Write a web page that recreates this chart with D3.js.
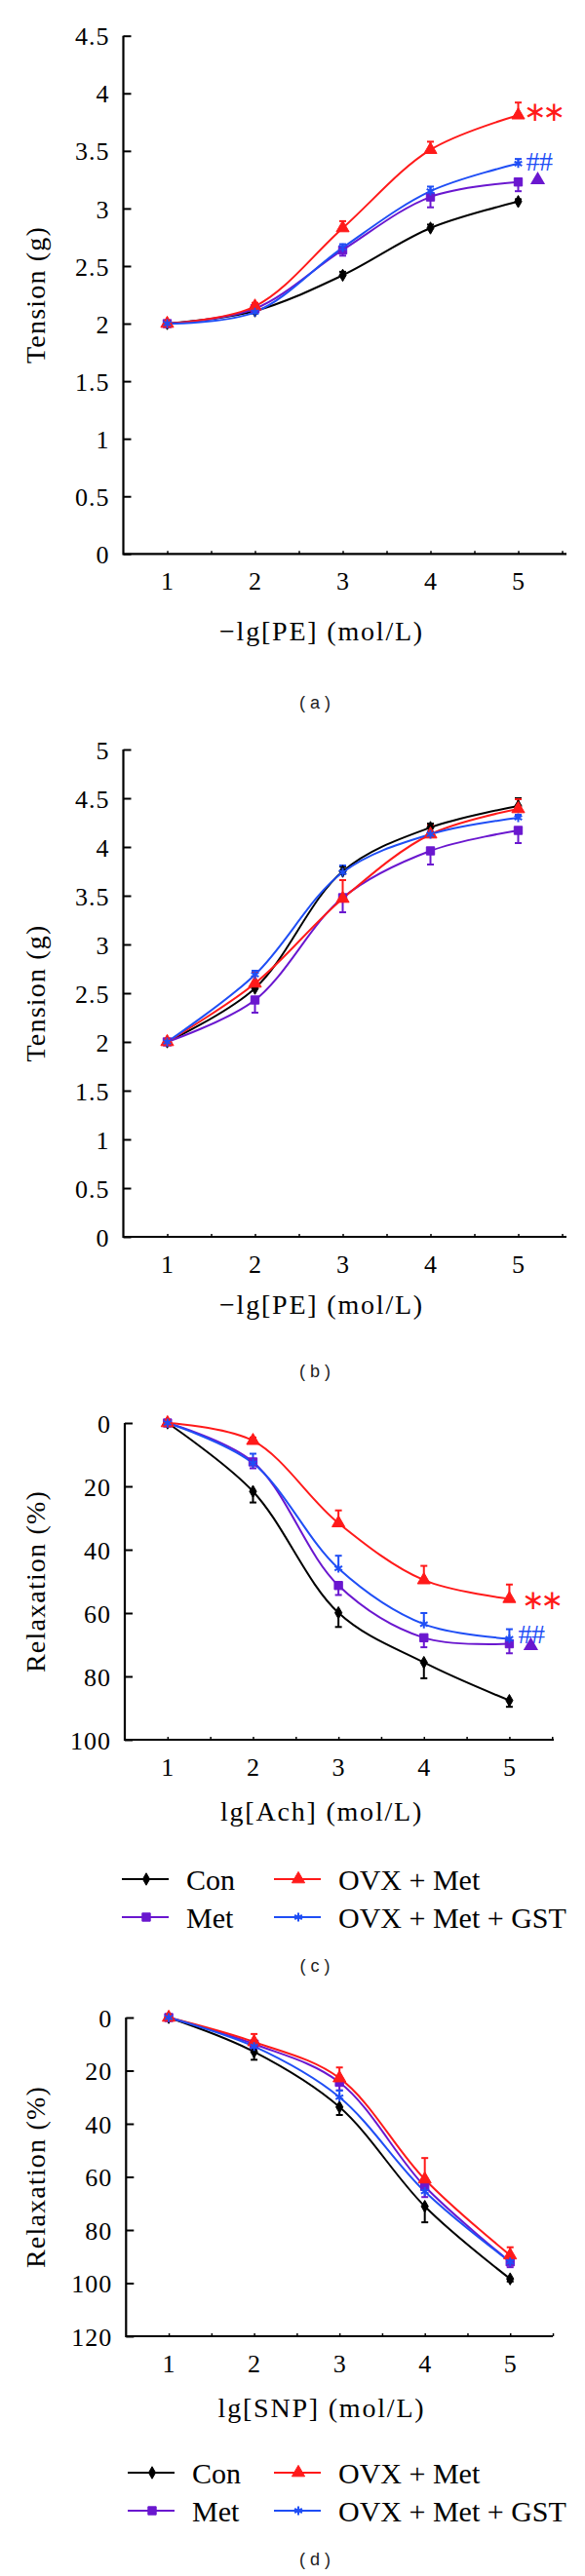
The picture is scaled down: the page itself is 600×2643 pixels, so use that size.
<!DOCTYPE html>
<html><head><meta charset="utf-8">
<script src="https://cdn.jsdelivr.net/npm/d3@7"></script>
<style>body{margin:0;background:#fff}svg{display:block}</style>
</head><body>
<svg id="c" width="600" height="2643"></svg>
<script>
// ---------- data ----------
const doses = [1, 2, 3, 4, 5];
const seriesNames = ["Con", "Met", "OVX + Met", "OVX + Met + GST"];

// (a) -lg[PE], tension (g)
const aTicks = [0, 0.5, 1, 1.5, 2, 2.5, 3, 3.5, 4, 4.5];
const aCon = [2.00, 2.11, 2.42, 2.83, 3.06];
const aMet = [2.00, 2.13, 2.64, 3.10, 3.23];
const aOvxMet = [2.00, 2.15, 2.83, 3.51, 3.81];
const aOvxMetGst = [2.00, 2.10, 2.66, 3.15, 3.39];
const aConErr = [0.01, 0.02, 0.03, 0.03, 0.02];
const aMetErr = [0.01, 0.02, 0.05, 0.09, 0.08];
const aOvxMetErr = [0.01, 0.03, 0.06, 0.07, 0.11];
const aOvxMetGstErr = [0.01, 0.02, 0.03, 0.04, 0.04];

// (b) -lg[PE], tension (g)
const bTicks = [0, 0.5, 1, 1.5, 2, 2.5, 3, 3.5, 4, 4.5, 5];
const bCon = [2.00, 2.55, 3.75, 4.20, 4.42];
const bMet = [2.00, 2.43, 3.48, 3.96, 4.17];
const bOvxMet = [2.00, 2.60, 3.47, 4.13, 4.39];
const bOvxMetGst = [2.00, 2.69, 3.74, 4.13, 4.30];
const bConErr = [0.01, 0.04, 0.05, 0.04, 0.08];
const bMetErr = [0.01, 0.13, 0.15, 0.14, 0.13];
const bOvxMetErr = [0.01, 0.11, 0.19, 0.09, 0.10];
const bOvxMetGstErr = [0.01, 0.04, 0.07, 0.03, 0.03];

// (c) lg[Ach], relaxation (%)
const cTicks = [0, 20, 40, 60, 80, 100];
const cCon = [0, 21.6, 59.9, 75.6, 87.6];
const cMet = [0, 12.3, 51.3, 67.8, 69.7];
const cOvxMet = [0, 5.6, 31.6, 49.6, 55.5];
const cOvxMetGst = [0, 12.7, 45.9, 63.5, 68.1];
const cConErr = [0.5, 3.5, 4.5, 5, 2];
const cMetErr = [0.5, 2, 3, 3, 3];
const cOvxMetErr = [0.5, 1, 4, 4.5, 4.5];
const cOvxMetGstErr = [0.5, 3, 4, 3.5, 3];

// (d) lg[SNP], relaxation (%)
const dTicks = [0, 20, 40, 60, 80, 100, 120];
const dCon = [0, 12.9, 33.7, 71.1, 98.4];
const dMet = [0, 10.0, 24.4, 63.6, 92.0];
const dOvxMet = [0, 9.2, 22.8, 60.9, 89.5];
const dOvxMetGst = [0, 10.9, 30.0, 65.5, 92.0];
const dConErr = [0.5, 3, 3, 6, 1];
const dMetErr = [0.5, 2, 3, 4, 2];
const dOvxMetErr = [0.5, 3, 4, 8, 3];
const dOvxMetGstErr = [0.5, 2, 2.5, 5, 2];

// significance labels
const sigRed = "\u2217\u2217";
const sigBlue = "##";

// ---------- styles ----------
const colors = ["#000000", "#6a17cf", "#ff1a1a", "#1f4ef5"];
const symbols = [d3.symbolDiamond, d3.symbolSquare, d3.symbolTriangle, d3.symbolAsterisk];
const symSizes = [45, 70, 75, 55];
const SERIF = "'Liberation Serif', 'Times New Roman', serif";

const svg = d3.select("#c");

const panels = [
  { label: "( a )", xTitle: "\u2212lg[PE] (mol/L)", yTitle: "Tension (g)",
    ticks: aTicks, yDom: [0, 4.5], yR: [568.3, 36.7], xDom: [0.5, 5.55], xR: [126.5, 581],
    vals: [aCon, aMet, aOvxMet, aOvxMetGst], errs: [aConErr, aMetErr, aOvxMetErr, aOvxMetGstErr],
    dir: [1, -1, 1, 1], labelY: 721, xTitleY: 647, legend: null,
    notes: { red: [10, -4], blue: [8, -2], tri: [20, -2] } },
  { label: "( b )", xTitle: "\u2212lg[PE] (mol/L)", yTitle: "Tension (g)",
    ticks: bTicks, yDom: [0, 5], yR: [1269, 769], xDom: [0.5, 5.55], xR: [126.5, 581],
    vals: [bCon, bMet, bOvxMet, bOvxMetGst], errs: [bConErr, bMetErr, bOvxMetErr, bOvxMetGstErr],
    dir: [1, -1, 1, 1], labelY: 1407, xTitleY: 1338, legend: null, notes: null },
  { label: "( c )", xTitle: "lg[Ach] (mol/L)", yTitle: "Relaxation (%)",
    ticks: cTicks, yDom: [0, 100], yR: [1460, 1785], xDom: [0.5, 5.52], xR: [128, 568],
    vals: [cCon, cMet, cOvxMet, cOvxMetGst], errs: [cConErr, cMetErr, cOvxMetErr, cOvxMetGstErr],
    dir: [1, 1, -1, -1], labelY: 2017, xTitleY: 1858, legend: [1928, 1967, 125],
    notes: { red: [17, 1], blue: [9, -5], tri: [22, 2] } },
  { label: "( d )", xTitle: "lg[SNP] (mol/L)", yTitle: "Relaxation (%)",
    ticks: dTicks, yDom: [0, 120], yR: [2070, 2397], xDom: [0.5, 5.5], xR: [129.3, 567],
    vals: [dCon, dMet, dOvxMet, dOvxMetGst], errs: [dConErr, dMetErr, dOvxMetErr, dOvxMetGstErr],
    dir: [1, 1, -1, -1], labelY: 2626, xTitleY: 2470, legend: [2537, 2576, 131], notes: null }
];

panels.forEach((p, pi) => {
  const g = svg.append("g");
  const x = d3.scaleLinear().domain(p.xDom).range(p.xR);
  const y = d3.scaleLinear().domain(p.yDom).range(p.yR);
  const x0 = p.xR[0];
  const yTop = Math.min(p.yR[0], p.yR[1]), yBot = Math.max(p.yR[0], p.yR[1]);

  // y axis
  const yAx = g.append("g").attr("transform", `translate(${x0},0)`)
    .call(d3.axisRight(y).tickValues(p.ticks).tickSize(8).tickFormat(d3.format("")));
  yAx.select(".domain").remove();
  yAx.selectAll(".tick line").attr("stroke", "#000").attr("stroke-width", 2);
  yAx.selectAll(".tick text").attr("x", -14).attr("text-anchor", "end")
    .attr("font-family", SERIF).attr("font-size", 26).attr("letter-spacing", 1).attr("fill", "#000")
    .attr("dy", "0.35em");

  // x axis
  const xTicks = d3.range(1, 5.51, 0.5);
  const axisY = yBot;
  const xAx = g.append("g").attr("transform", `translate(0,${axisY})`)
    .call(d3.axisTop(x).tickValues(xTicks).tickSize(3).tickFormat(""));
  xAx.select(".domain").remove();
  xAx.selectAll(".tick line").attr("stroke", "#000").attr("stroke-width", 1.5);
  g.append("g").selectAll("text").data(doses).join("text")
    .attr("x", d => x(d)).attr("y", axisY + 28).attr("dy", "0.35em")
    .attr("text-anchor", "middle").attr("font-family", SERIF).attr("font-size", 26)
    .text(d => d);

  // axis lines
  g.append("path").attr("d", `M${x0},${yTop}V${axisY}H${p.xR[1]}`)
    .attr("fill", "none").attr("stroke", "#000").attr("stroke-width", 2.2);

  // titles
  g.append("text").attr("transform", `translate(36,${(yTop + yBot) / 2}) rotate(-90)`)
    .attr("text-anchor", "middle").attr("dy", "0.35em")
    .attr("font-family", SERIF).attr("font-size", 28).attr("letter-spacing", 1.2)
    .text(p.yTitle);
  g.append("text").attr("x", 330).attr("y", p.xTitleY).attr("dy", "0.35em")
    .attr("text-anchor", "middle").attr("font-family", SERIF).attr("font-size", 28)
    .attr("letter-spacing", 1.8).text(p.xTitle);
  g.append("text").attr("x", 323).attr("y", p.labelY).attr("dy", "0.35em")
    .attr("text-anchor", "middle").attr("font-family", "'Liberation Sans', Arial, sans-serif")
    .attr("font-size", 18).attr("fill", "#222").text(p.label);

  // lines
  const line = d3.line().x((d, i) => x(doses[i])).y(d => y(d)).curve(d3.curveCatmullRom.alpha(0.5));
  p.vals.forEach((vals, si) => {
    g.append("path").datum(vals).attr("d", line).attr("fill", "none")
      .attr("stroke", colors[si]).attr("stroke-width", 2);
  });
  // error bars
  p.vals.forEach((vals, si) => {
    const eg = g.append("g").attr("stroke", colors[si]).attr("stroke-width", 2);
    vals.forEach((v, i) => {
      const e = p.errs[si][i];
      const yv = y(v), ye = y(v + p.dir[si] * e);
      const xv = x(doses[i]);
      eg.append("line").attr("x1", xv).attr("x2", xv).attr("y1", yv).attr("y2", ye);
      eg.append("line").attr("x1", xv - 3.5).attr("x2", xv + 3.5).attr("y1", ye).attr("y2", ye);
    });
  });
  // markers
  p.vals.forEach((vals, si) => {
    const sym = d3.symbol().type(symbols[si]).size(symSizes[si]);
    g.append("g").selectAll("path").data(vals).join("path")
      .attr("transform", (d, i) => `translate(${x(doses[i])},${y(d)})`)
      .attr("d", sym)
      .attr("fill", si === 3 ? "none" : colors[si])
      .attr("stroke", colors[si]).attr("stroke-width", si === 3 ? 2 : 1);
  });

  // significance marks
  if (p.notes) {
    const last = doses.length - 1;
    const xe = x(doses[last]);
    const n = p.notes;
    g.append("text").attr("x", xe + n.red[0] - 4.5).attr("y", y(p.vals[2][last]) + n.red[1] + 9.5)
      .attr("font-family", "'DejaVu Sans', sans-serif").attr("font-size", 28).attr("fill", colors[2])
      .attr("letter-spacing", -4).text(sigRed);
    g.append("text").attr("x", xe + n.blue[0]).attr("y", y(p.vals[3][last]) + n.blue[1] + 9.5)
      .attr("font-family", SERIF).attr("font-size", 28).attr("fill", colors[3])
      .attr("letter-spacing", -0.5).text(sigBlue);
    g.append("path").attr("transform", `translate(${xe + n.tri[0]},${y(p.vals[1][last]) + n.tri[1]})`)
      .attr("d", d3.symbol().type(d3.symbolTriangle).size(100)).attr("fill", colors[1]);
  }

  // legend
  if (p.legend) {
    const [r1, r2, lx] = p.legend;
    const items = [
      { i: 0, x: lx, y: r1 }, { i: 2, x: 281, y: r1 },
      { i: 1, x: lx, y: r2 }, { i: 3, x: 281, y: r2 }
    ];
    const lg = g.append("g");
    items.forEach(it => {
      lg.append("line").attr("x1", it.x).attr("x2", it.x + 48).attr("y1", it.y).attr("y2", it.y)
        .attr("stroke", colors[it.i]).attr("stroke-width", 2);
      lg.append("path").attr("transform", `translate(${it.x + 25},${it.y})`)
        .attr("d", d3.symbol().type(symbols[it.i]).size(symSizes[it.i]))
        .attr("fill", it.i === 3 ? "none" : colors[it.i]).attr("stroke", colors[it.i])
        .attr("stroke-width", it.i === 3 ? 2 : 1);
      lg.append("text").attr("x", it.x + 66).attr("y", it.y).attr("dy", "0.35em")
        .attr("font-family", SERIF).attr("font-size", 30).text(seriesNames[it.i]);
    });
  }
});
</script>
</body></html>
